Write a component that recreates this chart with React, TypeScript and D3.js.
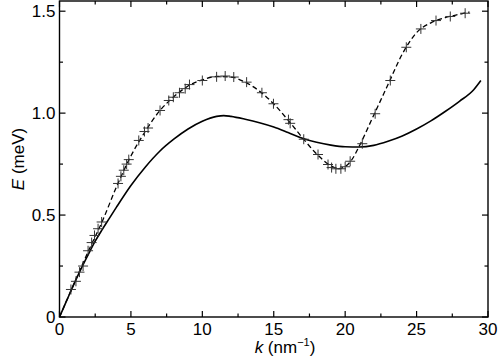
import React, { useRef, useEffect } from 'react';
import * as d3 from 'd3';

// solid theory curve (k in nm^-1, E in meV)
const solidK = [0, 0.5, 1, 1.5, 2, 2.5, 3, 3.5, 4, 5, 6, 7, 8, 9, 10, 11, 11.5, 12, 13, 14, 15, 16, 17, 18, 19, 20, 21, 22, 23, 24, 25, 26, 27, 28, 29, 29.5];
const solidE = [0, 0.08, 0.16, 0.235, 0.305, 0.372, 0.43, 0.485, 0.54, 0.645, 0.735, 0.812, 0.872, 0.922, 0.96, 0.984, 0.988, 0.984, 0.97, 0.953, 0.932, 0.905, 0.877, 0.857, 0.843, 0.835, 0.834, 0.842, 0.862, 0.888, 0.922, 0.962, 1.008, 1.058, 1.115, 1.16];

// dashed guide through measurements
const dashK = [0, 1, 2, 3, 4, 5, 6, 7, 8, 9, 10, 11, 12, 13, 14, 15, 16, 17, 18, 19, 19.5, 20, 20.5, 21, 22, 23, 24, 25, 26, 27, 28, 28.7];
const dashE = [0, 0.16, 0.32, 0.47, 0.64, 0.79, 0.91, 1.01, 1.08, 1.133, 1.163, 1.18, 1.177, 1.152, 1.108, 1.045, 0.966, 0.88, 0.8, 0.742, 0.728, 0.738, 0.775, 0.84, 0.99, 1.14, 1.29, 1.395, 1.443, 1.468, 1.485, 1.496];

// measured points (crosses)
const ptK = [0.8, 1.15, 1.4, 1.65, 2.0, 2.25, 2.45, 2.7, 2.95, 4.1, 4.3, 4.5, 4.7, 4.85, 5.55, 5.95, 6.2, 7.04, 7.65, 7.97, 8.4, 8.8, 9.1, 10.0, 11.0, 11.6, 12.2, 13.1, 14.17, 14.98, 16.03, 16.15, 17.1, 18.1, 18.8, 19.05, 19.35, 19.7, 20.0, 20.35, 21.2, 22.1, 23.16, 24.28, 25.3, 26.36, 27.36, 28.4];
const ptE = [0.135, 0.175, 0.22, 0.25, 0.325, 0.365, 0.4, 0.433, 0.466, 0.655, 0.69, 0.72, 0.75, 0.772, 0.866, 0.91, 0.927, 1.013, 1.062, 1.078, 1.1, 1.12, 1.14, 1.16, 1.178, 1.182, 1.177, 1.152, 1.1, 1.046, 0.968, 0.95, 0.872, 0.797, 0.748, 0.733, 0.727, 0.727, 0.737, 0.764, 0.85, 0.997, 1.16, 1.323, 1.413, 1.454, 1.474, 1.49];

const xTicks = [0, 5, 10, 15, 20, 25, 30];
const yTicks = [0, 0.5, 1.0, 1.5];
const yTickLabels = ['0', '0.5', '1.0', '1.5'];

const Chart: React.FC = () => {
  const ref = useRef<SVGSVGElement>(null);

  useEffect(() => {
    const svg = d3.select(ref.current);
    svg.selectAll('*').remove();
    const width = 500;
    const height = 364;
    const margin = { top: 1, right: 12, bottom: 47, left: 59.5 };
    const font = '"Liberation Sans", Arial, Helvetica, sans-serif';

    svg.attr('width', width).attr('height', height);

    const x = d3.scaleLinear().domain([0, 30]).range([margin.left, width - margin.right]);
    const y = d3.scaleLinear().domain([0, 1.55]).range([height - margin.bottom, margin.top]);

    const x0 = x(0), x1 = x(30), y0 = y(0), y1 = y(1.55);

    // ticks (inward, all four sides)
    const ticks = svg.append('g').attr('stroke', '#000').attr('stroke-width', 1.2);
    d3.range(0, 30.01, 2.5).forEach((v, i) => {
      const len = i % 2 === 0 ? 6 : 3.5;
      ticks.append('line').attr('x1', x(v)).attr('x2', x(v)).attr('y1', y0).attr('y2', y0 - len);
      ticks.append('line').attr('x1', x(v)).attr('x2', x(v)).attr('y1', y1).attr('y2', y1 + len);
    });
    d3.range(0, 1.51, 0.25).forEach((v, i) => {
      const len = i % 2 === 0 ? 6 : 3.5;
      ticks.append('line').attr('x1', x0).attr('x2', x0 + len).attr('y1', y(v)).attr('y2', y(v));
      ticks.append('line').attr('x1', x1).attr('x2', x1 - len).attr('y1', y(v)).attr('y2', y(v));
    });

    // frame
    svg.append('rect')
      .attr('x', x0).attr('y', y1)
      .attr('width', x1 - x0).attr('height', y0 - y1)
      .attr('fill', 'none').attr('stroke', '#000').attr('stroke-width', 1.4);

    // tick labels
    svg.append('g').selectAll('text').data(xTicks).join('text')
      .attr('x', d => x(d)).attr('y', y0 + 18)
      .attr('text-anchor', 'middle')
      .attr('font-family', font).attr('font-size', 17)
      .text(d => String(d));

    svg.append('g').selectAll('text').data(yTicks).join('text')
      .attr('x', x0 - 4).attr('y', d => y(d)).attr('dy', '0.35em')
      .attr('text-anchor', 'end')
      .attr('font-family', font).attr('font-size', 17)
      .text((d, i) => yTickLabels[i]);

    // axis titles
    const xl = svg.append('text')
      .attr('x', 285).attr('y', 353)
      .attr('text-anchor', 'middle')
      .attr('font-family', font).attr('font-size', 17);
    xl.append('tspan').attr('font-style', 'italic').text('k');
    xl.append('tspan').text(' (nm');
    xl.append('tspan').attr('font-size', 11).attr('dy', -7).text('\u22121');
    xl.append('tspan').attr('dy', 7).text(')');

    const yl = svg.append('text')
      .attr('transform', `translate(24,${(y0 + y1) / 2}) rotate(-90)`)
      .attr('text-anchor', 'middle')
      .attr('font-family', font).attr('font-size', 17);
    yl.append('tspan').attr('font-style', 'italic').text('E');
    yl.append('tspan').text(' (meV)');

    const line = d3.line<[number, number]>()
      .curve(d3.curveMonotoneX)
      .x(d => x(d[0]))
      .y(d => y(d[1]));

    svg.append('path')
      .datum(solidK.map((k, i) => [k, solidE[i]] as [number, number]))
      .attr('fill', 'none').attr('stroke', '#000').attr('stroke-width', 1.6)
      .attr('d', line);

    svg.append('path')
      .datum(dashK.map((k, i) => [k, dashE[i]] as [number, number]))
      .attr('fill', 'none').attr('stroke', '#000').attr('stroke-width', 1.3)
      .attr('stroke-dasharray', '5,3')
      .attr('d', line);

    svg.append('g').selectAll('path').data(ptK).join('path')
      .attr('transform', (d, i) => `translate(${x(d)},${y(ptE[i])})`)
      .attr('d', 'M-5,0H5M0,-5V5')
      .attr('stroke', '#333').attr('stroke-width', 1)
      .attr('fill', 'none');
  }, []);

  return <svg ref={ref} style={{ position: 'absolute', left: 0, top: 0, background: '#fff' }}></svg>;
};

export default function App() {
  return <Chart />;
}
